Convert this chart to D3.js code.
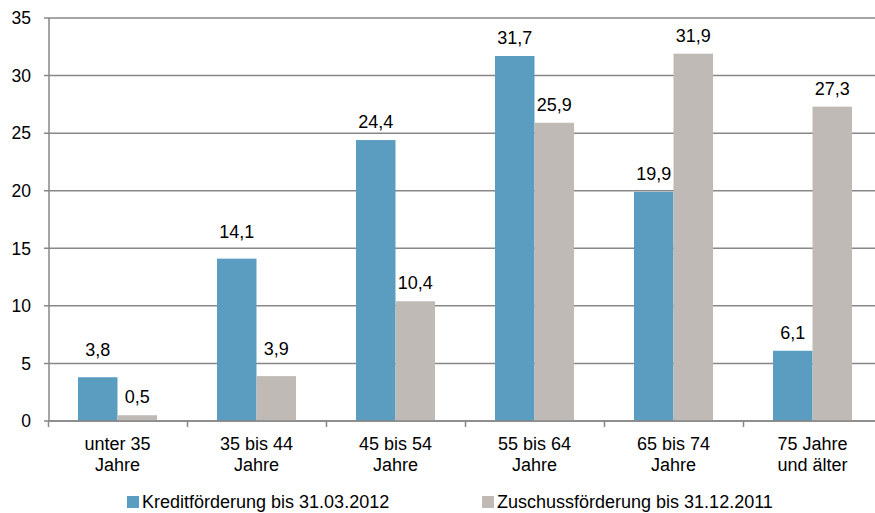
<!DOCTYPE html>
<html>
<head>
<meta charset="utf-8">
<script src="https://cdn.jsdelivr.net/npm/d3@7"></script>
<style>
  body { margin: 0; background: #fff; }
  text { font-family: "Liberation Sans", Arial, sans-serif; }
</style>
</head>
<body>
<script>
const categories = [["unter 35", "Jahre"], ["35 bis 44", "Jahre"], ["45 bis 54", "Jahre"],
  ["55 bis 64", "Jahre"], ["65 bis 74", "Jahre"], ["75 Jahre", "und älter"]];
const seriesNames = ["Kreditförderung bis 31.03.2012", "Zuschussförderung bis 31.12.2011"];
const kredit = [3.8, 14.1, 24.4, 31.7, 19.9, 6.1];
const zuschuss = [0.5, 3.9, 10.4, 25.9, 31.9, 27.3];
const yTicks = [0, 5, 10, 15, 20, 25, 30, 35];

const width = 875, height = 513;
const colors = ["#5b9dc0", "#bfbab6"];
const gridColor = "#878787";

const svg = d3.select("body").append("svg")
  .attr("width", width)
  .attr("height", height);

const x = d3.scaleBand()
  .domain(d3.range(categories.length))
  .range([48, 882]);

const y = d3.scaleLinear()
  .domain([0, 35])
  .range([421, 18]);

// gridlines
svg.append("g").selectAll("line")
  .data(yTicks)
  .enter().append("line")
  .attr("x1", 44).attr("x2", 882)
  .attr("y1", d => y(d)).attr("y2", d => y(d))
  .attr("stroke", gridColor)
  .attr("stroke-width", 1.5);

// y labels
svg.append("g").selectAll("text")
  .data(yTicks)
  .enter().append("text")
  .attr("x", 31)
  .attr("y", d => y(d))
  .attr("dy", "0.36em")
  .attr("text-anchor", "end")
  .attr("font-size", 17.5)
  .attr("fill", "#000")
  .text(d => d);

const barW = 39.5;
const series = [kredit, zuschuss];

series.forEach(function (vals, s) {
  const g = svg.append("g");
  g.selectAll("rect")
    .data(vals)
    .enter().append("rect")
    .attr("x", (d, i) => x(i) + x.bandwidth() / 2 - barW + s * barW)
    .attr("y", d => y(d))
    .attr("width", barW)
    .attr("height", d => y(0) - y(d))
    .attr("fill", colors[s]);

  g.selectAll("text")
    .data(vals)
    .enter().append("text")
    .attr("x", (d, i) => x(i) + x.bandwidth() / 2 - barW / 2 + s * barW)
    .attr("y", function (d) {
      const top = y(d);
      let base = top - 12;
      // nudge labels that would sit on a gridline
      const hit = yTicks.some(t => y(t) > base - 12 && y(t) < base + 2);
      if (hit) base = top - 21;
      return base;
    })
    .attr("text-anchor", "middle")
    .attr("font-size", 18)
    .attr("fill", "#000")
    .text(d => d3.format(".1f")(d).replace(".", ","));
});

// axes lines
svg.append("line")
  .attr("x1", 49).attr("x2", 49)
  .attr("y1", y(35)).attr("y2", y(0))
  .attr("stroke", gridColor).attr("stroke-width", 1.5);

svg.append("line")
  .attr("x1", 48).attr("x2", 882)
  .attr("y1", y(0)).attr("y2", y(0))
  .attr("stroke", gridColor).attr("stroke-width", 1.5);

svg.append("g").selectAll("line")
  .data(d3.range(categories.length + 1))
  .enter().append("line")
  .attr("x1", i => (i < categories.length ? x(i) : 882) + 0.5)
  .attr("x2", i => (i < categories.length ? x(i) : 882) + 0.5)
  .attr("y1", y(0)).attr("y2", y(0) + 6)
  .attr("stroke", gridColor).attr("stroke-width", 1.5);

// category labels
const cat = svg.append("g").selectAll("text")
  .data(categories)
  .enter().append("text")
  .attr("text-anchor", "middle")
  .attr("font-size", 18)
  .attr("fill", "#000");

cat.selectAll("tspan")
  .data((d, i) => d.map(t => ({ t: t, i: i })))
  .enter().append("tspan")
  .attr("x", d => x(d.i) + x.bandwidth() / 2)
  .attr("y", (d, j) => 450 + j * 21)
  .text(d => d.t);

// legend
const legX = [127, 482];
const leg = svg.append("g").selectAll("g")
  .data(seriesNames)
  .enter().append("g");

leg.append("rect")
  .attr("x", (d, i) => legX[i])
  .attr("y", 496)
  .attr("width", 12)
  .attr("height", 12)
  .attr("fill", (d, i) => colors[i]);

leg.append("text")
  .attr("x", (d, i) => legX[i] + 15)
  .attr("y", 508)
  .attr("font-size", 18)
  .attr("fill", "#000")
  .text(d => d);
</script>
</body>
</html>
